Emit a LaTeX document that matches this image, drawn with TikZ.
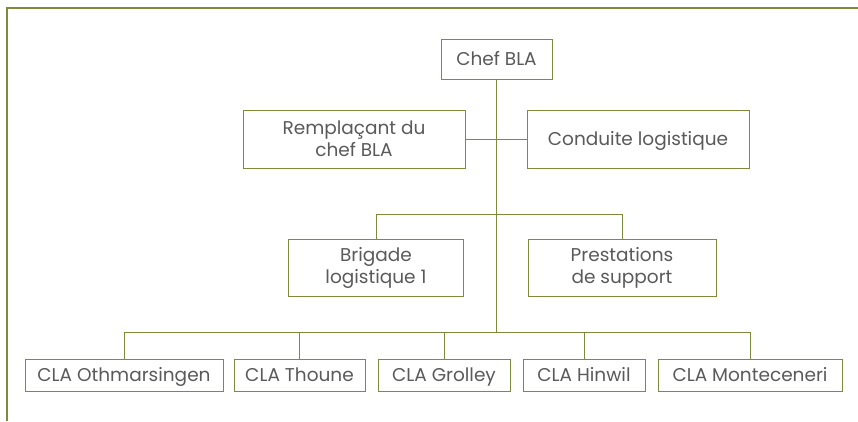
\documentclass[tikz,border=0pt]{standalone}
\usepackage{fontspec}
\setmainfont{Poppins}
\usepackage{tikz}
\definecolor{olive}{HTML}{7D8B3C}
\definecolor{txt}{HTML}{5A5A5A}

\begin{document}
\begin{tikzpicture}[x=1pt,y=-1pt,
   box/.style={draw=olive,line width=0.9pt,fill=white,text=txt,align=center,
      inner sep=0pt,font=\fontsize{18.5}{22}\selectfont},
   single/.style={box,text height=15pt,text depth=2pt},
   link/.style={draw=olive,line width=0.8pt}]
   \useasboundingbox (0,0) rectangle (858,421);
   % frame
   \draw[olive,line width=1.4pt] (858,8) -- (7,8) -- (7,421);
   % boxes
   \node[single,minimum width=111,minimum height=40] (chef) at (496.5,59) {Chef BLA};
   \node[box,minimum width=222,minimum height=58] (rempl) at (354,139) {Remplaçant du\\chef BLA};
   \node[single,minimum width=222,minimum height=58] (cond) at (638,139) {Conduite logistique};
   \node[box,minimum width=175,minimum height=57] (brig) at (376,267.5) {Brigade\\logistique 1};
   \node[box,minimum width=188,minimum height=57] (prest) at (622,267.5) {Prestations\\de support};
   \node[single,minimum width=198,minimum height=32] (oth) at (124,375) {CLA Othmarsingen};
   \node[single,minimum width=131,minimum height=32] (thou) at (299.5,375) {CLA Thoune};
   \node[single,minimum width=132,minimum height=32] (grol) at (444,375) {CLA Grolley};
   \node[single,minimum width=122,minimum height=32] (hinw) at (584,375) {CLA Hinwil};
   \node[single,minimum width=184,minimum height=32] (mont) at (750,375) {CLA Monteceneri};
   \coordinate (bus) at (496.5,333);
   % connectors
   \draw[link] (chef.south) -- (bus);
   \draw[link] (rempl.east) -- (cond.west);
   \draw[link] (brig.north) -- ++(0,-24) -| (prest.north);
   \draw[link] (oth.north) -- ++(0,-26) -| (mont.north);
   \draw[link] (thou.north) -- ++(0,-26);
   \draw[link] (grol.north) -- ++(0,-26);
   \draw[link] (hinw.north) -- ++(0,-26);
\end{tikzpicture}
\end{document}
